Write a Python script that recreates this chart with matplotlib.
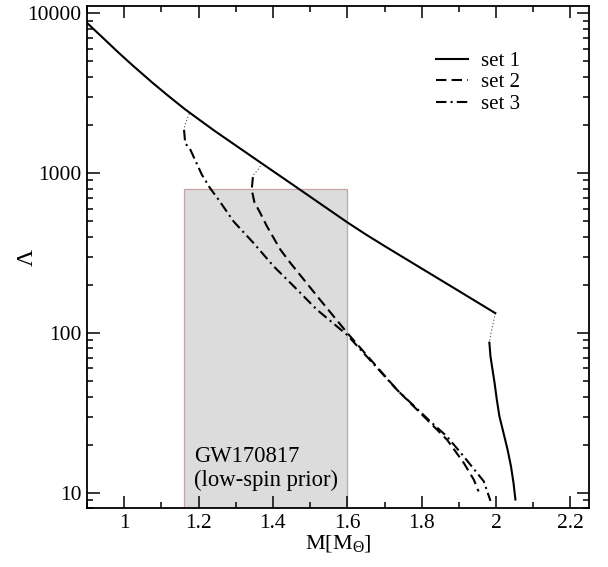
import numpy as np
import matplotlib
matplotlib.use("Agg")
import matplotlib.pyplot as plt
from matplotlib.patches import Rectangle
from matplotlib.ticker import MultipleLocator, LogLocator, NullFormatter, FixedLocator

plt.rcParams['font.family'] = ['Liberation Serif', 'DejaVu Serif']
plt.rcParams['mathtext.fontset'] = 'custom'
plt.rcParams['mathtext.rm'] = 'Liberation Serif'
plt.rcParams['mathtext.it'] = 'Liberation Serif:italic'

# set 1: hadronic branch, unstable part, hybrid branch
m1 = [0.9, 0.943, 0.985, 1.024, 1.075, 1.118, 1.164, 1.204, 1.245, 1.366, 1.456,
      1.6, 1.65, 1.7, 1.8, 1.9, 1.998]
lam1 = [8700, 7010, 5665, 4690, 3694, 3050, 2504, 2140, 1825, 1167, 838,
        492, 413, 350, 253, 183, 133]
m1_unst = [1.998, 1.992, 1.986, 1.982]
lam1_unst = [133, 115, 99, 87]
m1_hyb = [1.982, 1.985, 1.989, 1.996, 2.002, 2.009, 2.020, 2.031, 2.040, 2.047, 2.052]
lam1_hyb = [87, 71.4, 62, 48.7, 38.3, 30.1, 23.7, 18.6, 14.7, 11.5, 9.08]

# set 2
m2_unst = [1.372, 1.358, 1.349, 1.346]
lam2_unst = [1150, 1040, 985, 944]
m2 = [1.346, 1.343, 1.350, 1.366, 1.384, 1.420, 1.447, 1.527, 1.600, 1.734, 1.823,
      1.868, 1.913, 1.940, 1.953]
lam2 = [944, 787, 660, 562, 464, 332, 274, 161, 100, 44, 27.4,
        21.5, 15.4, 12.1, 10.2]

# set 3
m3_unst = [1.175, 1.168, 1.163, 1.161]
lam3_unst = [2350, 2150, 1980, 1862]
m3 = [1.161, 1.164, 1.178, 1.209, 1.231, 1.254, 1.294, 1.348, 1.402, 1.456, 1.518,
      1.600, 1.734, 1.823, 1.868, 1.913, 1.967, 1.985]
lam3 = [1862, 1540, 1400, 976, 805, 681, 499, 365, 261, 196, 140,
        97, 44, 28, 22.5, 16.9, 11.8, 8.9]

# GW170817 constraint
gw_m = [1.16, 1.6]
gw_lam_max = 800

fig = plt.figure(figsize=(6.08, 5.67), dpi=100)
ax = fig.add_axes([0.1431, 0.1035, 0.8257, 0.8859])

ax.add_patch(Rectangle((gw_m[0], 1), gw_m[1] - gw_m[0], gw_lam_max - 1,
                       facecolor='#dcdcdc', edgecolor='#c8a4a4', lw=0.9, zorder=1))
ax.text(1.188, 10.3, 'GW170817\n(low-spin prior)', fontsize=16.3, linespacing=1.15,
        va='bottom', ha='left', zorder=5)

lw = 1.5
dot = dict(color='0.3', lw=0.8, ls=(0, (1, 2)), zorder=3)
ax.plot(m1, lam1, color='k', lw=lw, label='set 1', zorder=4)
ax.plot(m1_unst, lam1_unst, **dot)
ax.plot(m1_hyb, lam1_hyb, color='k', lw=lw, zorder=4)
ax.plot(m2_unst, lam2_unst, **dot)
ax.plot(m2, lam2, color='k', lw=lw, ls=(0, (5, 2.5)), label='set 2', zorder=4)
ax.plot(m3_unst, lam3_unst, **dot)
ax.plot(m3, lam3, color='k', lw=lw, ls=(0, (5, 2, 1, 2)), label='set 3', zorder=4)

ax.set_yscale('log')
ax.set_xlim(0.9, 2.25)
ax.set_ylim(8, 11100)

ax.xaxis.set_major_locator(FixedLocator([1, 1.2, 1.4, 1.6, 1.8, 2.0, 2.2]))
ax.xaxis.set_minor_locator(MultipleLocator(0.1))
ax.set_xticklabels(['1', '1.2', '1.4', '1.6', '1.8', '2', '2.2'])
ax.yaxis.set_major_locator(FixedLocator([10, 100, 1000, 10000]))
ax.set_yticklabels(['10', '100', '1000', '10000'])
ax.yaxis.set_minor_locator(LogLocator(base=10, subs=np.arange(2, 10)))
ax.yaxis.set_minor_formatter(NullFormatter())

ax.tick_params(which='both', direction='in', top=True, right=True, width=1.1,
               labelsize=15.5)
ax.tick_params(axis='y', which='major', length=9, pad=4)
ax.tick_params(axis='x', which='major', length=8.5, pad=4)
ax.tick_params(which='minor', length=4)
for s in ax.spines.values():
    s.set_linewidth(1.3)

ax.set_xlabel(r'M[M$_{\Theta}$]', fontsize=16, labelpad=0)
ax.set_ylabel('Λ', fontsize=17)
ax.yaxis.set_label_coords(-0.0976, 0.5)

ax.legend(loc='upper left', bbox_to_anchor=(0.695, 0.91), frameon=False,
          fontsize=15, handlelength=1.55, handletextpad=0.6, labelspacing=0.1,
          borderpad=0, borderaxespad=0)

fig.savefig('out.png', dpi=100)
